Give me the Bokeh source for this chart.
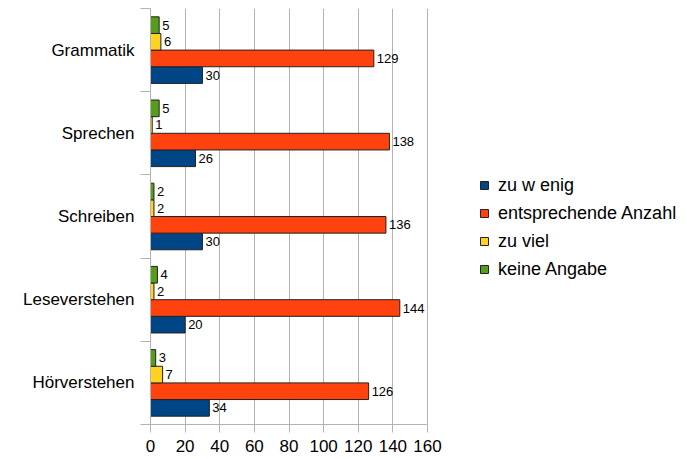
from bokeh.plotting import figure
from bokeh.models import (ColumnDataSource, Range1d, FixedTicker, Legend, LegendItem,
                          LabelSet)
from bokeh.core.properties import value
from bokeh.embed import file_html
from bokeh.resources import INLINE

# Skills, listed from bottom to top of the chart
skills = ["Hörverstehen", "Leseverstehen", "Schreiben", "Sprechen", "Grammatik"]

# Answer counts per skill (same order as skills)
zu_wenig = [34, 20, 30, 26, 30]
entsprechend = [126, 144, 136, 138, 129]
zu_viel = [7, 2, 2, 1, 6]
keine_angabe = [3, 4, 2, 5, 5]

series_names = ["zu w enig", "entsprechende Anzahl", "zu viel", "keine Angabe"]
series_values = [zu_wenig, entsprechend, zu_viel, keine_angabe]
series_colors = ["#004586", "#ff420e", "#ffd320", "#579d1c"]
offsets = [-0.3, -0.1, 0.1, 0.3]

x_ticks = [0, 20, 40, 60, 80, 100, 120, 140, 160]
x_max = 160

FONT = "Liberation Sans"

# The frame runs to the right edge so the legend can sit inside it;
# the axis itself only spans 0..x_max (277 px wide).
W, H = 687, 459
LEFT = 150
AXIS_PX = 277
frame_px = W - LEFT
x_end = x_max * frame_px / AXIS_PX

p = figure(width=W, height=H, output_backend="svg", toolbar_location=None,
           x_range=Range1d(0, x_end), y_range=Range1d(0, len(skills)),
           min_border_left=LEFT, min_border_right=0, min_border_top=8,
           min_border_bottom=35)
p.outline_line_color = None
p.background_fill_color = "white"

centers = [i + 0.5 for i in range(len(skills))]

items = []
for name, vals, color, off in zip(series_names, series_values, series_colors, offsets):
    src = ColumnDataSource(dict(
        y=[c + off for c in centers],
        right=vals,
        label=[str(v) for v in vals],
    ))
    r = p.hbar(y="y", left=0, right="right", height=0.2, source=src,
               fill_color=color, line_color="#222222", line_width=1)
    items.append(LegendItem(label=name, renderers=[r]))
    labels = LabelSet(x="right", y="y", text="label", source=src, x_offset=3,
                      text_baseline="middle", text_font=value(FONT),
                      text_font_size="13px", text_color="#000000")
    p.add_layout(labels)

# x axis
p.xaxis.ticker = FixedTicker(ticks=x_ticks)
p.xaxis.bounds = (0, x_max)
p.xaxis.axis_line_color = "#b3b3b3"
p.xaxis.major_tick_line_color = "#b3b3b3"
p.xaxis.major_tick_out = 8
p.xaxis.major_tick_in = 0
p.xaxis.minor_tick_line_color = None
p.xaxis.major_label_text_font = FONT
p.xaxis.major_label_text_font_size = "17px"
p.xaxis.major_label_text_color = "#000000"
p.xaxis.major_label_standoff = 7

# y axis: labels at category centres, separator ticks at category boundaries
p.yaxis.ticker = FixedTicker(ticks=centers, minor_ticks=list(range(len(skills) + 1)))
p.yaxis.major_label_overrides = {c: s for c, s in zip(centers, skills)}
p.yaxis.axis_line_color = "#b3b3b3"
p.yaxis.major_tick_line_color = None
p.yaxis.major_tick_out = 0
p.yaxis.major_tick_in = 0
p.yaxis.minor_tick_line_color = "#b3b3b3"
p.yaxis.minor_tick_out = 10
p.yaxis.minor_tick_in = 0
p.yaxis.major_label_text_font = FONT
p.yaxis.major_label_text_font_size = "17px"
p.yaxis.major_label_text_color = "#000000"
p.yaxis.major_label_standoff = 6

p.xgrid.grid_line_color = "#b3b3b3"
p.xgrid.bounds = (0, x_max)
p.ygrid.grid_line_color = None

legend = Legend(items=items, location=(329, 144),
                orientation="vertical", border_line_color=None,
                background_fill_alpha=0, padding=0, margin=0, spacing=6,
                glyph_width=10, glyph_height=10, label_height=22,
                label_text_font=FONT, label_text_font_size="18px",
                label_text_color="#000000", label_standoff=9)
p.add_layout(legend)

open("out.html", "w").write(file_html(p, INLINE))
